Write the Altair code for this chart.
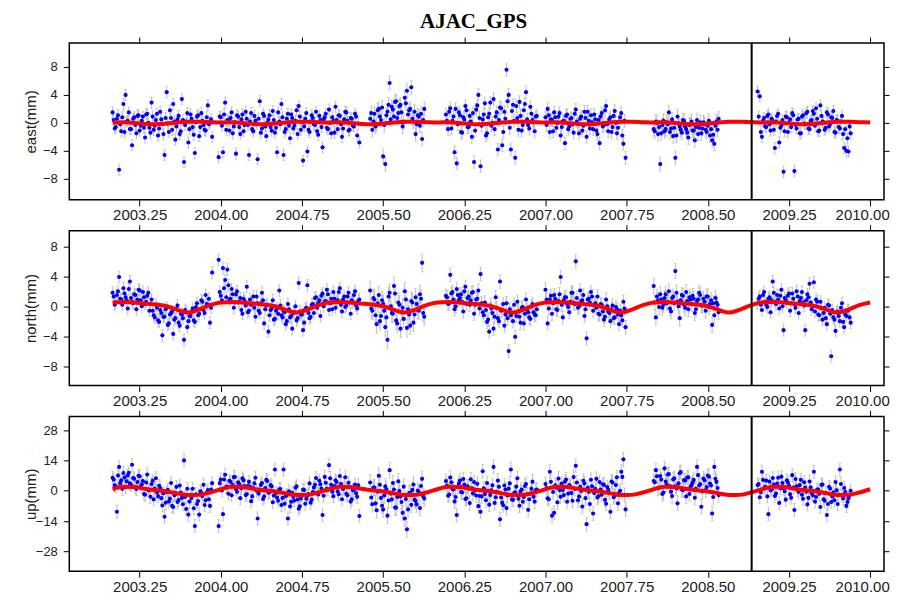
import altair as alt
import pandas as pd

# ---------------- data ----------------
chart_title = "AJAC_GPS"

# observation epochs (decimal years), seven continuous stretches of data (first set)
epochs = [
    2003.00, 2003.02, 2003.04, 2003.06, 2003.08, 2003.10, 2003.12, 2003.14, 2003.16, 2003.18,
    2003.20, 2003.22, 2003.24, 2003.26, 2003.28, 2003.30, 2003.32, 2003.34, 2003.36, 2003.38,
    2003.40, 2003.42, 2003.44, 2003.46, 2003.48, 2003.50, 2003.52, 2003.54, 2003.56, 2003.58,
    2003.60, 2003.62, 2003.64, 2003.66, 2003.68, 2003.70, 2003.72, 2003.74, 2003.76, 2003.78,
    2003.80, 2003.82, 2003.84, 2003.86, 2003.88, 2003.90, 2003.92,
    2003.98, 2004.00, 2004.02, 2004.04, 2004.06, 2004.08, 2004.10, 2004.12, 2004.14, 2004.16,
    2004.18, 2004.20, 2004.22, 2004.24, 2004.26, 2004.28, 2004.30, 2004.32, 2004.34, 2004.36,
    2004.38, 2004.40, 2004.42, 2004.44, 2004.46, 2004.48, 2004.50, 2004.52, 2004.54, 2004.56,
    2004.58, 2004.60, 2004.62, 2004.64, 2004.66, 2004.68, 2004.70, 2004.72, 2004.74, 2004.76,
    2004.78, 2004.80, 2004.82, 2004.84, 2004.86, 2004.88, 2004.90, 2004.92, 2004.94, 2004.96,
    2004.98, 2005.00, 2005.02, 2005.04, 2005.06, 2005.08, 2005.10, 2005.12, 2005.14, 2005.16,
    2005.18, 2005.20, 2005.22, 2005.24, 2005.26, 2005.28,
    2005.38, 2005.40, 2005.42, 2005.44, 2005.46, 2005.48, 2005.50, 2005.52, 2005.54, 2005.56,
    2005.58, 2005.60, 2005.62, 2005.64, 2005.66, 2005.68, 2005.70, 2005.72, 2005.74, 2005.76,
    2005.78, 2005.80, 2005.82, 2005.84, 2005.86, 2005.88,
    2006.08, 2006.10, 2006.12, 2006.14, 2006.16, 2006.18, 2006.20, 2006.22, 2006.24, 2006.26,
    2006.28, 2006.30, 2006.32, 2006.34, 2006.36, 2006.38, 2006.40, 2006.42, 2006.44, 2006.46,
    2006.48, 2006.50, 2006.52, 2006.54, 2006.56, 2006.58, 2006.60, 2006.62, 2006.64, 2006.66,
    2006.68, 2006.70, 2006.72, 2006.74, 2006.76, 2006.78, 2006.80, 2006.82, 2006.84, 2006.86,
    2006.88, 2006.90, 2006.92,
    2007.00, 2007.02, 2007.04, 2007.06, 2007.08, 2007.10, 2007.12, 2007.14, 2007.16, 2007.18,
    2007.20, 2007.22, 2007.24, 2007.26, 2007.28, 2007.30, 2007.32, 2007.34, 2007.36, 2007.38,
    2007.40, 2007.42, 2007.44, 2007.46, 2007.48, 2007.50, 2007.52, 2007.54, 2007.56, 2007.58,
    2007.60, 2007.62, 2007.64, 2007.66, 2007.68, 2007.70, 2007.72, 2007.74,
    2008.00, 2008.02, 2008.04, 2008.06, 2008.08, 2008.10, 2008.12, 2008.14, 2008.16, 2008.18,
    2008.20, 2008.22, 2008.24, 2008.26, 2008.28, 2008.30, 2008.32, 2008.34, 2008.36, 2008.38,
    2008.40, 2008.42, 2008.44, 2008.46, 2008.48, 2008.50, 2008.52, 2008.54, 2008.56, 2008.58,
    2008.60,
    2008.96, 2008.98, 2009.00, 2009.02, 2009.04, 2009.06, 2009.08, 2009.10, 2009.12, 2009.14,
    2009.16, 2009.18, 2009.20, 2009.22, 2009.24, 2009.26, 2009.28, 2009.30, 2009.32, 2009.34,
    2009.36, 2009.38, 2009.40, 2009.42, 2009.44, 2009.46, 2009.48, 2009.50, 2009.52, 2009.54,
    2009.56, 2009.58, 2009.60, 2009.62, 2009.64, 2009.66, 2009.68, 2009.70, 2009.72, 2009.74,
    2009.76, 2009.78, 2009.80, 2009.82,
]
segment_sizes = [47, 66, 26, 43, 38, 31, 44]

east = [
    1.5, -0.8, 0.6, -6.7, -1.2, 2.7, 4.0, 0.3, -0.9, -3.2,
    0.8, -1.5, 1.1, -0.4, 0.9, -2.1, 1.3, -0.7, 2.9, -1.0,
    0.4, -1.8, 1.6, -0.2, -4.6, 4.4, -1.3, 0.7, 2.7, -2.4,
    0.5, -1.6, 3.4, -5.6, 0.2, -2.8, 1.2, -0.6, -4.3, 0.9,
    -1.9, 1.4, -0.3, -1.1, 2.5, 0.1, -2.0,
    -4.9, 0.8, -4.2, 2.9, 0.4, -1.1, 1.5, -0.5, -4.4, 0.9,
    -1.6, 1.2, -0.3, 0.6, -4.6, 1.4, -1.2, 0.3, -5.2, 3.1,
    -0.8, 1.0, -1.9, 0.5, -0.6, 1.7, -1.4, -4.2, 0.2, 2.7,
    -4.6, -0.9, 1.3, -2.2, 0.7, -0.4, 1.8, 2.4, -1.0, -5.4,
    0.6, -4.1, -1.3, 1.1, -0.2, 1.6, -1.7, 0.4, -3.5, 0.8,
    -0.7, 1.9, -1.5, 0.3, 2.3, -0.9, 1.0, -2.0, 0.5, 1.5,
    -1.1, 0.7, -0.4, 1.3, -1.8, -2.8,
    0.6, -1.0, 1.3, -0.2, 2.0, 0.4, -4.8, -5.9, 1.6, 5.7,
    2.3, 0.9, 3.1, 1.4, 2.6, -0.5, 3.6, 4.6, 1.8, 5.1,
    0.2, -1.6, 1.1, -0.4, -2.3, 2.0,
    1.2, -0.9, 2.1, 0.3, -4.2, -5.8, 1.5, -1.3, 0.8, 2.4,
    -0.6, 1.0, -2.0, -5.6, 1.9, 4.0, -6.2, 0.5, 2.8, -1.5,
    1.3, -0.4, 3.4, 0.9, -3.8, 2.2, -3.2, 1.6, 7.6, 4.0,
    -3.8, 2.6, -5.0, 0.7, 3.0, -1.1, 1.8, 4.4, -0.3, 2.3,
    0.4, -1.2, 1.0,
    0.8, 2.0, -1.3, 0.4, 1.5, -0.7, 0.9, -1.8, 0.2, -2.9,
    1.2, -0.5, 0.7, -1.4, 1.9, -0.2, 0.6, -1.1, 1.6, -2.0,
    0.3, 1.1, -0.9, 0.5, -1.6, -2.9, 1.4, -0.3, 2.4, -1.2,
    0.8, -0.6, 1.7, -1.5, 0.2, 1.4, -3.0, -5.0,
    -0.9, 0.2, -1.6, -5.9, -0.3, -1.2, 0.1, 1.5, -0.8, -1.9,
    -5.0, 0.9, -0.5, -1.4, 0.3, -0.9, -2.1, -0.2, -1.1, -2.5,
    0.4, -0.7, -1.5, 0.1, -1.0, -0.4, -1.8, -2.5, -3.0, 0.2,
    0.6,
    4.5, 3.8, -2.0, 0.7, -0.6, 1.2, -1.1, 0.3, -3.6, 1.0,
    -2.8, -0.4, -7.0, 0.9, -1.3, 0.5, 1.4, -6.9, -0.8, 0.6,
    -1.5, 1.1, -0.2, 1.6, -0.9, 0.4, 1.3, 2.1, -1.2, 2.5,
    0.2, -1.0, 1.5, -0.5, 0.8, 1.7, -1.4, 0.3, -0.8, 1.0,
    -3.6, -4.0, -4.1, -1.5,
]

north = [
    1.8, 0.2, 1.5, 3.9, 0.9, 2.4, 1.2, -0.3, 3.3, 0.6,
    1.6, -0.4, 2.2, 0.8, 1.9, 0.3, 1.4, -0.6, 0.9, -1.2,
    0.2, -1.9, -0.5, -3.9, -1.4, -0.2, -2.3, -0.9, -3.7, -1.6,
    0.1, -2.6, -1.1, -4.5, -0.8, -2.0, -1.3, -0.3, -2.1, 0.4,
    -1.0, 0.8, -0.5, 1.5, 0.2, -2.2, 4.5,
    6.2, 1.4, 5.1, 3.5, 4.9, 0.9, 2.3, -0.2, 1.6, 0.5,
    1.1, -1.0, 0.7, 2.6, -0.6, 0.2, 1.3, -1.4, 0.4, -0.9,
    1.8, -2.3, 0.1, -3.4, -0.5, 0.8, -1.7, -0.3, 2.1, -1.2,
    -0.6, -2.4, 0.3, -1.5, -3.0, -0.8, -1.9, 3.1, -1.1, -3.2,
    -0.4, 2.8, -1.6, 0.2, -0.9, 1.2, 0.4, -1.3, 1.7, 0.6,
    2.2, -0.5, 1.0, 1.9, -0.2, 0.8, 2.4, -0.7, 1.3, 0.1,
    1.8, -1.0, 0.5, 2.0, -0.3, 0.9,
    2.1, -0.6, 0.9, -2.4, 1.5, -1.3, 0.3, -2.8, -4.5, 1.8,
    -0.9, 2.7, -1.9, 0.5, -3.0, -0.2, 2.0, -2.9, -1.1, 0.7,
    -2.2, 1.2, -0.5, 1.6, 5.8, -1.4,
    1.4, 0.3, 4.2, 1.9, -0.4, 2.3, 0.8, 1.6, -0.7, 2.6,
    1.1, 0.2, 1.8, -1.0, 0.9, 2.1, 4.3, -0.8, 0.5, -2.1,
    -3.4, -0.3, -3.0, 1.2, -1.6, 3.3, -0.5, -2.6, 0.4, -6.0,
    -1.2, -2.0, -4.1, 0.6, -1.4, -0.2, -2.3, 0.9, -0.8, -1.7,
    0.3, -1.1, -0.4,
    2.2, -2.3, 0.9, -1.0, 1.5, -0.4, 0.7, 3.9, -1.5, 1.2,
    0.3, -0.8, 1.8, 0.5, 6.0, -0.2, 2.1, 0.8, -1.3, -4.3,
    1.0, 1.9, -0.6, 0.4, 1.3, -1.1, 0.2, -1.8, 0.9, -0.7,
    -2.0, 0.1, -1.5, -0.4, -2.4, -1.2, 0.6, -2.8,
    2.7, -1.5, 0.8, 1.6, -0.2, 1.1, 0.4, 2.0, -0.7, 1.3,
    4.7, 0.6, -1.6, 1.5, 0.2, 1.9, -0.4, 0.9, 1.4, -0.9,
    0.7, 1.8, 0.1, 1.0, -0.6, 1.3, 0.3, -2.5, -1.2, 0.5,
    -0.8,
    0.4, 1.3, -0.5, 1.9, 0.2, 1.0, -0.8, 3.3, 0.6, 1.5,
    -0.3, 2.2, -3.2, 0.8, 1.4, -0.6, 1.7, 0.3, 2.0, -0.9,
    1.1, 0.5, -3.2, 1.6, 3.0, -0.4, 3.2, 0.9, -1.1, 0.6,
    -1.8, -0.2, -2.4, 0.1, -6.7, -1.5, -3.3, -0.7, -2.0, 0.4,
    -2.8, -1.3, -0.5, -2.2,
]

up = [
    6.0, 2.5, -9.7, 11.0, 4.8, 8.2, 1.6, 7.1, 3.4, 12.0,
    5.5, 0.8, 6.9, 2.2, 4.5, -1.8, 7.5, 0.4, 3.1, -4.0,
    5.8, -2.5, 1.2, -6.8, -12.0, -0.7, -4.9, 3.6, -7.5, -1.5,
    -5.2, 2.4, -3.3, 14.0, -8.4, -11.0, -2.0, 0.9, -16.3, -6.1,
    -11.0, -1.2, 2.8, -4.4, 0.3, -7.0, 3.5,
    -16.3, 5.2, -10.8, 7.4, 1.9, 4.6, -2.1, 6.3, 0.8, 3.9,
    -3.4, 5.7, 2.2, -1.6, 4.1, -4.8, 1.3, 6.0, -12.8, 0.4,
    3.5, -2.7, 5.0, -0.9, 2.6, -5.3, 9.8, -3.1, 0.7, -6.6,
    9.8, -2.4, -12.8, -7.2, -1.0, -4.5, 2.1, -8.3, -3.6, 0.5,
    -6.0, -2.2, 3.4, -4.1, 1.5, 5.9, -1.7, 3.0, -11.2, 6.4,
    0.9, 11.8, 2.7, -2.5, 4.8, -0.3, 6.8, -3.9, 1.6, -1.4,
    3.7, -5.0, 0.2, 2.9, -2.8, -11.7,
    3.8, -6.2, 1.5, -9.0, 6.9, -3.3, -8.7, 2.0, -11.5, 9.5,
    -4.0, 0.6, -7.8, 4.4, -2.6, -10.2, -12.8, -17.8, -1.1, -6.5,
    2.9, -4.7, 0.1, -8.0, 5.5, -3.6,
    4.5, -2.3, 6.1, 0.8, -4.9, -11.2, 3.3, -0.6, 5.4, -3.8,
    2.0, -5.7, 1.1, 4.0, -2.2, -7.1, -9.7, 9.0, -1.5, 3.6,
    -6.4, 0.2, 11.0, -3.0, 4.7, -13.2, -5.5, 2.4, -8.0, 1.0,
    9.8, -4.2, -0.7, 5.8, -6.9, 0.6, -2.9, 3.1, -8.8, -1.3,
    4.2, -5.0, 0.5,
    3.1, -3.5, 8.8, -11.5, -10.2, 1.4, 5.6, -2.8, 0.3, 4.2,
    -5.1, 2.6, -1.0, 6.3, 11.5, -4.4, 1.8, -7.3, 3.4, -15.4,
    -0.5, 5.1, -10.5, 0.9, -3.1, 4.0, -1.8, 2.7, -6.0, 0.4,
    -9.7, 3.8, -2.3, 6.2, -0.9, 8.8, 14.5, -8.6,
    4.5, 9.5, 1.2, 6.8, -1.5, 10.3, 3.0, 7.7, -0.4, 5.2,
    2.1, -5.8, 8.1, 0.6, 4.9, -2.6, 6.2, 1.8, 3.7, -3.2,
    11.0, 2.4, -7.4, 5.6, 0.3, 7.0, 3.3, -10.5, 11.0, 4.1,
    -2.0,
    2.6, -3.0, 8.8, 1.1, 4.7, -10.8, 0.2, 5.9, -2.4, 3.3,
    -5.6, 6.5, 1.0, -4.1, 3.8, -1.6, 7.2, -8.9, 2.1, -0.5,
    5.0, -3.7, 1.5, -6.3, 4.3, -1.2, 8.8, -2.9, 0.6, -7.5,
    2.9, -4.6, -11.2, 1.8, -5.2, -0.8, 4.0, -6.1, 9.8, -2.2,
    1.3, -7.0, -3.4, 0.0,
]

# second set of daily solutions (the dense core of each cloud)
epochs_b = [
    2003.01, 2003.03, 2003.05, 2003.07, 2003.09, 2003.11, 2003.13, 2003.15, 2003.17, 2003.19,
    2003.21, 2003.23, 2003.25, 2003.27, 2003.29, 2003.31, 2003.33, 2003.35, 2003.37, 2003.39,
    2003.41, 2003.43, 2003.45, 2003.47, 2003.49, 2003.51, 2003.53, 2003.55, 2003.57, 2003.59,
    2003.61, 2003.63, 2003.65, 2003.67, 2003.69, 2003.71, 2003.73, 2003.75, 2003.77, 2003.79,
    2003.81, 2003.83, 2003.85, 2003.87, 2003.89, 2003.91,
    2003.99, 2004.01, 2004.03, 2004.05, 2004.07, 2004.09, 2004.11, 2004.13, 2004.15, 2004.17,
    2004.19, 2004.21, 2004.23, 2004.25, 2004.27, 2004.29, 2004.31, 2004.33, 2004.35, 2004.37,
    2004.39, 2004.41, 2004.43, 2004.45, 2004.47, 2004.49, 2004.51, 2004.53, 2004.55, 2004.57,
    2004.59, 2004.61, 2004.63, 2004.65, 2004.67, 2004.69, 2004.71, 2004.73, 2004.75, 2004.77,
    2004.79, 2004.81, 2004.83, 2004.85, 2004.87, 2004.89, 2004.91, 2004.93, 2004.95, 2004.97,
    2004.99, 2005.01, 2005.03, 2005.05, 2005.07, 2005.09, 2005.11, 2005.13, 2005.15, 2005.17,
    2005.19, 2005.21, 2005.23, 2005.25, 2005.27,
    2005.39, 2005.41, 2005.43, 2005.45, 2005.47, 2005.49, 2005.51, 2005.53, 2005.55, 2005.57,
    2005.59, 2005.61, 2005.63, 2005.65, 2005.67, 2005.69, 2005.71, 2005.73, 2005.75, 2005.77,
    2005.79, 2005.81, 2005.83, 2005.85, 2005.87,
    2006.09, 2006.11, 2006.13, 2006.15, 2006.17, 2006.19, 2006.21, 2006.23, 2006.25, 2006.27,
    2006.29, 2006.31, 2006.33, 2006.35, 2006.37, 2006.39, 2006.41, 2006.43, 2006.45, 2006.47,
    2006.49, 2006.51, 2006.53, 2006.55, 2006.57, 2006.59, 2006.61, 2006.63, 2006.65, 2006.67,
    2006.69, 2006.71, 2006.73, 2006.75, 2006.77, 2006.79, 2006.81, 2006.83, 2006.85, 2006.87,
    2006.89, 2006.91,
    2007.01, 2007.03, 2007.05, 2007.07, 2007.09, 2007.11, 2007.13, 2007.15, 2007.17, 2007.19,
    2007.21, 2007.23, 2007.25, 2007.27, 2007.29, 2007.31, 2007.33, 2007.35, 2007.37, 2007.39,
    2007.41, 2007.43, 2007.45, 2007.47, 2007.49, 2007.51, 2007.53, 2007.55, 2007.57, 2007.59,
    2007.61, 2007.63, 2007.65, 2007.67, 2007.69, 2007.71, 2007.73,
    2008.01, 2008.03, 2008.05, 2008.07, 2008.09, 2008.11, 2008.13, 2008.15, 2008.17, 2008.19,
    2008.21, 2008.23, 2008.25, 2008.27, 2008.29, 2008.31, 2008.33, 2008.35, 2008.37, 2008.39,
    2008.41, 2008.43, 2008.45, 2008.47, 2008.49, 2008.51, 2008.53, 2008.55, 2008.57, 2008.59,
    2008.97, 2008.99, 2009.01, 2009.03, 2009.05, 2009.07, 2009.09, 2009.11, 2009.13, 2009.15,
    2009.17, 2009.19, 2009.21, 2009.23, 2009.25, 2009.27, 2009.29, 2009.31, 2009.33, 2009.35,
    2009.37, 2009.39, 2009.41, 2009.43, 2009.45, 2009.47, 2009.49, 2009.51, 2009.53, 2009.55,
    2009.57, 2009.59, 2009.61, 2009.63, 2009.65, 2009.67, 2009.69, 2009.71, 2009.73, 2009.75,
    2009.77, 2009.79, 2009.81,
]
segment_sizes_b = [46, 65, 25, 42, 37, 30, 43]

east_b = [
    0.4, -0.6, 1.1, -0.2, 0.8, -1.3, 0.2, 1.5, -0.9, 0.6,
    -0.3, 1.0, -1.1, 0.3, -0.7, 1.2, 0.0, -1.4, 0.9, -0.4,
    1.3, -0.8, 0.5, -1.6, 0.7, -0.1, 1.8, -1.0, 0.2, -0.5,
    1.0, -1.2, 0.4, -0.3, 1.4, -0.9, 0.6, -1.7, 0.1, 1.1,
    -0.6, 0.3, -1.0, 0.8, -0.2, 0.5,
    0.9, -0.4, 1.2, -1.0, 0.3, 0.7, -1.5, 0.1, 1.1, -0.6,
    0.5, -1.2, 1.6, -0.3, 0.2, -0.9, 1.0, -0.1, 0.6, -1.4,
    1.3, -0.5, 0.0, 1.1, -1.1, 0.4, -0.7, 1.5, -0.2, 0.8,
    -1.3, 0.6, -0.4, 1.2, -0.8, 0.3, -1.6, 0.9, 0.1, -0.5,
    1.4, -1.0, 0.2, 0.7, -0.3, -1.2, 1.0, -0.6, 0.5, 1.3,
    -0.9, 0.0, 0.8, -1.4, 0.4, 1.1, -0.2, -0.8, 1.6, 0.3,
    -1.0, 0.6, -0.5, 0.9, -0.1,
    1.4, 0.2, -0.5, 1.8, 0.9, 2.2, -0.3, 1.1, 2.6, 0.5,
    1.9, 3.0, 0.7, 2.4, 1.5, 0.1, 2.8, 1.2, 2.0, 0.6,
    1.6, -0.2, 0.9, 1.3, 0.4,
    0.3, 1.6, -0.8, 0.9, 2.0, -0.2, 1.1, -1.4, 0.5, 1.8,
    -0.6, 0.2, 1.4, -1.1, 2.5, 0.7, -0.4, 1.2, -1.8, 0.8,
    2.9, 0.0, -0.9, 1.5, 0.4, 2.1, -1.3, 0.6, 3.1, -0.7,
    1.7, 0.3, 2.4, -1.0, 1.0, -0.3, 2.7, 0.5, -0.8, 1.3,
    0.1, 0.9,
    -0.3, 1.1, 0.5, -1.2, 0.8, 0.0, 1.4, -0.6, 0.3, 1.0,
    -0.9, 0.6, -0.2, 1.3, 0.2, -1.5, 0.9, -0.4, 0.7, 1.6,
    -0.8, 0.1, 1.2, -1.1, 0.4, 0.9, -0.5, 1.8, -0.2, 0.5,
    -1.3, 1.0, 0.0, -0.7, 0.8, -1.8, 0.3,
    -1.2, 0.0, -0.6, -1.5, 0.3, -0.9, -0.2, -1.3, 0.5, -0.7,
    -1.8, -0.1, -1.0, 0.4, -0.5, -1.4, -0.3, 0.2, -1.1, -0.6,
    -1.6, 0.1, -0.8, -0.2, -1.3, 0.3, -0.9, -1.7, -0.4, -1.0,
    0.9, -1.3, 0.3, -0.5, 1.0, -0.2, 0.6, -1.0, 0.2, 1.3,
    -0.7, 0.4, -1.2, 0.8, 0.0, -0.6, 1.1, -0.3, 0.5, -1.5,
    0.9, -0.1, 1.4, -0.8, 0.3, 1.7, -0.4, 0.6, -1.1, 1.0,
    0.1, -0.7, 1.2, -0.2, 0.7, -1.3, 0.4, -0.6, 0.2, -1.6,
    -0.9, -2.2, -0.5,
]

north_b = [
    1.3, 0.5, 2.0, 1.0, 0.2, 1.7, 0.8, 2.3, 1.1, 0.4,
    1.5, 0.9, 2.1, 0.0, 1.2, 0.6, 1.8, 0.3,
    -0.6, -1.5, -0.2, -2.1, -0.9, -1.4, -0.4, -2.5, -1.1, -0.7,
    -1.8, -0.3, -2.2, -1.0, -1.6, -0.5, -2.8, -1.3, -0.8, -1.9,
    -0.1, -1.2,
    -0.4, 0.6, -0.9, 0.3, 1.0, -0.2,
    1.9, 0.8, 2.4, 1.2, 2.8, 1.0, 1.6, 0.5, 2.0,
    0.6, -0.5, 1.0, 0.1, -0.8, 0.9, 0.3, -0.2, 1.3, -0.6, 0.4, 0.8, -0.4, 0.2,
    -1.2, -0.3, -1.8, -0.6, -1.0, 0.1, -1.5, -0.8, -2.0, -0.4,
    -1.3, -0.9, 0.0, -1.6, -0.7, -1.1, -2.2, -0.2, -0.9, -1.4,
    0.3, 1.1, -0.2, 0.8, 1.4, 0.0, 0.7, 1.6, 0.4, -0.4, 1.0,
    0.6, 1.9, 0.2, 0.9, -0.1, 1.3, 0.5, 0.8, 1.5, 0.1, 0.7,
    -0.3, 1.1, -1.2, 0.4, -2.0, 0.8, -0.6, -1.5, 1.3, 0.0,
    -1.0, 1.7, -2.3, 0.2, -0.8, -1.7, 0.9, -0.4, -2.6, 0.5,
    -1.1, 0.3, -0.6, 1.0, -0.9,
    1.2, 0.4, 1.7, 0.9, 0.0, 1.5, 1.1, 0.6, 2.0, 0.3, 1.3, 0.8, 1.9, 0.2, 1.0,
    -0.3, 0.4, -1.2, -0.5, -1.8, 0.1, -0.9, -1.4, -0.2, -2.0,
    -0.6, 0.3, -1.1, -1.6, -0.4, -0.9, 0.2, -1.3, -0.7, -2.2,
    -0.1, -1.0, -0.5, -1.5, 0.0, -0.8, -1.2,
    0.9, -0.3, 1.4, 0.4, 1.0, -0.5, 1.6, 0.2, 0.8, 1.2,
    -0.1, 0.6, 1.8, 0.3, 1.1, 0.0, 0.7, 1.5, -0.4, 0.9,
    0.5, 1.3, 0.1,
    -0.2, -1.0, 0.3, -0.7, -1.4, 0.0, -0.9, -0.4, -1.6, -0.1, -1.1, -0.6, -1.9, -0.3,
    0.5, 1.3, -0.1, 0.9, 0.2, 1.6, 0.6, -0.3, 1.1, 0.4,
    1.8, 0.0, 0.8, 1.4, -0.2, 0.7, 1.2, 0.3, 1.0, -0.4,
    0.9, 1.5, 0.1, 0.6, 1.3, -0.1, 0.8, 0.4, 1.1, 0.2,
    1.0, 0.2, 1.5, 0.6, -0.1, 1.2, 0.8, 1.8, 0.3, 0.9,
    1.4, 0.0, 1.1, 0.5, 1.7, 0.4, 1.0, -0.2, 1.3, 0.7,
    1.9, 0.1, 0.8, 1.2, 0.5,
    0.0, -0.7, 0.6, -1.2, -0.3, -0.9, -1.6, 0.2, -1.0, -0.5,
    -1.8, -0.8, -1.3, -0.2, -2.1, -1.1, -0.6, -1.5,
]

up_b = [
    5.2, 2.1, 7.0, 3.5, 0.9, 6.1, 4.4, 8.3, 2.8, 5.9, 1.5, 4.0, 6.7,
    2.9, -1.5, 3.8, 0.2, -2.8, 4.6, 1.0, -0.7, 2.3, -3.4,
    -1.2, -5.5, 0.4, -3.6, -7.0, -2.1, 1.8, -4.3, -0.8, -6.2,
    -2.9, 0.9, -5.0, -3.3, -8.1, -1.6, -4.7, -0.3, -2.4, -6.6,
    -1.0, -3.9, 0.6,
    3.5, 0.1, 5.2, 1.8, -1.4, 4.1, 2.6, 6.3, -0.5, 3.0, 1.1, 4.8, -2.0, 2.2,
    1.9, -2.6, 3.4, 0.0, -1.3, 2.7, -3.8, 1.2, 4.5, -0.7, 2.0, -2.2,
    -1.0, -4.6, 0.8, -3.3, -6.0, -1.9, -0.2, -5.1, -2.8, 1.4,
    -4.0, -7.2, -2.2, 0.3, -3.7, -1.5, -5.5, -0.6,
    2.8, -0.9, 4.6, 1.0, -2.3, 3.7, 0.5, 5.8, -0.4, 2.2, 4.0, -1.6, 3.1, 0.8, 6.2,
    -2.1, 1.6, -3.9, 0.4, -1.2, 2.5,
    -3.1, 1.5, -5.8, -0.4, 2.8, -6.9, -2.2, 0.7, -4.5, -1.3,
    3.6, -7.7, -2.9, -0.1, -5.2, 1.9, -3.8, -8.6, -1.0, 0.4,
    -4.1, -6.3, -0.8, 2.2, -2.5,
    2.4, -1.7, 3.9, 0.6, -2.9, 1.8, 4.7, -0.8, 2.9, -3.5, 1.2, 5.3, -1.2, 0.3, 3.2, -2.4,
    -2.6, 1.1, -4.4, 0.0, -1.9, 2.5, -5.6, -0.5, 1.8, -3.1,
    -6.7, 0.6, -2.2, 3.4, -4.0, -1.1, 1.9, -3.7, -0.2, -5.1,
    2.2, -1.6, -3.9, 0.9, -2.8, 0.2,
    1.2, -3.9, 4.1, -0.6, 2.5, -5.3, 0.3, 3.3, -2.0, 5.2,
    -1.3, 1.9, -4.6, 0.8, 3.8, -2.7, -0.1, 4.6, -3.4, 1.4,
    -6.1, 2.1, -1.0, 5.5, -2.4, 0.5, 3.0, -4.2, 1.7, -0.9,
    4.3, -3.0, 2.6, -5.8, 0.0, 6.4, -1.9,
    3.9, 6.7, 1.5, 5.2, -0.8, 4.3, 7.5, 2.0, -2.4, 5.8,
    1.1, 3.4, 8.6, 0.2, 4.7, 6.1, -1.5, 2.7, 5.0, 0.9,
    7.2, 3.1, -0.3, 4.9, 1.7, 6.5, 2.4, -2.9, 5.5, 1.3,
    3.1, -0.7, 5.0, 1.8, -2.6, 4.2, 0.6, 2.9, -1.3, 6.0, 1.1,
    3.6, -0.2, 4.8, 2.3, -3.2, 1.5, 5.4, 0.3, 2.6, -1.8, 3.9,
    -0.4, -3.3, 1.6, -2.1, -5.0, 0.5, -1.4, 2.7, -3.9, -0.9,
    -6.1, 1.0, -2.6, -4.4, 0.2, -1.7, 3.1, -3.6, -0.6, -5.2, -2.0,
]

# one-sigma error per stretch (mm)
east_sigma = [0.8, 0.8, 1.0, 0.9, 0.9, 1.0, 0.8]
north_sigma = [0.8, 0.8, 1.2, 0.9, 0.9, 1.0, 0.8]
up_sigma = [3.0, 3.0, 3.6, 3.2, 3.2, 3.3, 3.0]

# fitted model (red curve), sampled every 0.1 yr
fit_epochs = [
    2003.0, 2003.1, 2003.2, 2003.3, 2003.4, 2003.5, 2003.6, 2003.7, 2003.8, 2003.9,
    2004.0, 2004.1, 2004.2, 2004.3, 2004.4, 2004.5, 2004.6, 2004.7, 2004.8, 2004.9,
    2005.0, 2005.1, 2005.2, 2005.3, 2005.4, 2005.5, 2005.6, 2005.7, 2005.8, 2005.9,
    2006.0, 2006.1, 2006.2, 2006.3, 2006.4, 2006.5, 2006.6, 2006.7, 2006.8, 2006.9,
    2007.0, 2007.1, 2007.2, 2007.3, 2007.4, 2007.5, 2007.6, 2007.7, 2007.8, 2007.9,
    2008.0, 2008.1, 2008.2, 2008.3, 2008.4, 2008.5, 2008.6, 2008.7, 2008.8, 2008.9,
    2009.0, 2009.1, 2009.2, 2009.3, 2009.4, 2009.5, 2009.6, 2009.7, 2009.8, 2009.9,
    2010.0,
]
east_fit = [
    0.05, 0.10, 0.00, -0.15, -0.20, -0.10, 0.05, 0.15, 0.15, 0.10,
    0.05, 0.10, 0.00, -0.15, -0.20, -0.10, 0.05, 0.15, 0.15, 0.10,
    0.05, 0.10, 0.00, -0.15, -0.20, -0.10, 0.05, 0.15, 0.15, 0.10,
    0.05, 0.10, 0.00, -0.15, -0.20, -0.10, 0.05, 0.15, 0.15, 0.10,
    0.05, 0.10, 0.00, -0.15, -0.20, -0.10, 0.05, 0.15, 0.15, 0.10,
    0.05, 0.10, 0.00, -0.15, -0.20, -0.10, 0.05, 0.15, 0.15, 0.10,
    0.05, 0.10, 0.00, -0.15, -0.20, -0.10, 0.05, 0.15, 0.15, 0.10,
    0.05,
]
north_fit = [
    0.50, 0.58, 0.50, 0.36, 0.22, 0.00, -0.50, -0.85, -0.45, 0.15,
    0.50, 0.58, 0.50, 0.36, 0.22, 0.00, -0.50, -0.85, -0.45, 0.15,
    0.50, 0.58, 0.50, 0.36, 0.22, 0.00, -0.50, -0.85, -0.45, 0.15,
    0.50, 0.58, 0.50, 0.36, 0.22, 0.00, -0.50, -0.85, -0.45, 0.15,
    0.50, 0.58, 0.50, 0.36, 0.22, 0.00, -0.50, -0.85, -0.45, 0.15,
    0.50, 0.58, 0.50, 0.36, 0.22, 0.00, -0.50, -0.85, -0.45, 0.15,
    0.50, 0.58, 0.50, 0.36, 0.22, 0.00, -0.50, -0.85, -0.45, 0.15,
    0.50,
]
up_fit = [
    0.7, 1.8, 1.7, 0.9, 0.2, -0.3, -1.2, -2.0, -1.9, -0.8,
    0.7, 1.8, 1.7, 0.9, 0.2, -0.3, -1.2, -2.0, -1.9, -0.8,
    0.7, 1.8, 1.7, 0.9, 0.2, -0.3, -1.2, -2.0, -1.9, -0.8,
    0.7, 1.8, 1.7, 0.9, 0.2, -0.3, -1.2, -2.0, -1.9, -0.8,
    0.7, 1.8, 1.7, 0.9, 0.2, -0.3, -1.2, -2.0, -1.9, -0.8,
    0.7, 1.8, 1.7, 0.9, 0.2, -0.3, -1.2, -2.0, -1.9, -0.8,
    0.7, 1.8, 1.7, 0.9, 0.2, -0.3, -1.2, -2.0, -1.9, -0.8,
    0.7,
]

offset_epoch = [2008.905]          # equipment change (vertical black line)
x_ticks = [2003.25, 2004.00, 2004.75, 2005.50, 2006.25, 2007.00, 2007.75, 2008.50, 2009.25, 2010.00]
x_domain = [2002.60, 2010.128]
hv_ticks = [-8, -4, 0, 4, 8]
up_ticks = [-28, -14, 0, 14, 28]

# ---------------- chart ----------------
PLOT_W = 816
SANS = "Liberation Sans"


def seg_ids(sizes):
    out = []
    for i, n in enumerate(sizes):
        out += [i] * n
    return out


seg_a = seg_ids(segment_sizes)
seg_b = seg_ids(segment_sizes_b)


def make_panel(values, values_b, sigmas, fit, ytitle, ydomain, yticks, height):
    t_all = epochs + epochs_b
    v_all = values + values_b
    s_all = [sigmas[s] for s in seg_a] + [sigmas[s] for s in seg_b]
    pts = pd.DataFrame({
        "t": t_all,
        "v": v_all,
        "lo": [v - s for v, s in zip(v_all, s_all)],
        "hi": [v + s for v, s in zip(v_all, s_all)],
    })
    fitdf = pd.DataFrame({"t": fit_epochs, "v": fit})
    brk = pd.DataFrame({"t": offset_epoch})

    xs = alt.Scale(domain=x_domain, nice=False, zero=False)
    ys = alt.Scale(domain=ydomain, nice=False, zero=False)

    ax_bottom = alt.Axis(orient="bottom", values=x_ticks, format=".2f", title=None, grid=False,
                         domain=False, tickSize=6, tickColor="black", tickWidth=1,
                         labelFont=SANS, labelFontSize=15, labelColor="#222222", labelPadding=2,
                         labelOffset={"condition": {"test": "datum.value >= 2010", "value": -8},
                                      "value": 0})
    ax_left = alt.Axis(orient="left", values=yticks, format="d", title=ytitle, grid=False,
                       domain=False, tickSize=6, tickColor="black", tickWidth=1,
                       labelFont=SANS, labelFontSize=13, labelColor="#222222", labelPadding=6,
                       titleFont=SANS, titleFontSize=15, titleFontWeight="normal",
                       titleColor="#222222", titlePadding=1, minExtent=30, maxExtent=30)
    ax_top = alt.Axis(orient="top", values=x_ticks, labels=False, title=None, grid=False,
                      domain=False, tickSize=6, tickColor="black", tickWidth=1)
    ax_right = alt.Axis(orient="right", values=yticks, labels=False, title=None, grid=False,
                        domain=False, tickSize=5, tickColor="black", tickWidth=1)

    base = alt.Chart(pts)
    bars = base.mark_rule(color="#b8b8b8", strokeWidth=0.9).encode(
        x=alt.X("t:Q", scale=xs, axis=ax_bottom),
        y=alt.Y("lo:Q", scale=ys, axis=ax_left),
        y2="hi:Q",
    )
    cap_lo = base.mark_tick(orient="horizontal", size=3, thickness=0.8, color="#b8b8b8").encode(
        x=alt.X("t:Q", scale=xs, axis=None),
        y=alt.Y("lo:Q", scale=ys, axis=None),
    )
    cap_hi = base.mark_tick(orient="horizontal", size=3, thickness=0.8, color="#b8b8b8").encode(
        x=alt.X("t:Q", scale=xs, axis=None),
        y=alt.Y("hi:Q", scale=ys, axis=None),
    )
    dots = base.mark_circle(size=17, color="#0000ff", opacity=1).encode(
        x=alt.X("t:Q", scale=xs, axis=ax_top),
        y=alt.Y("v:Q", scale=ys, axis=ax_right),
    )
    line = alt.Chart(fitdf).mark_line(color="#ff0000", strokeWidth=4, interpolate="monotone").encode(
        x=alt.X("t:Q", scale=xs, axis=None),
        y=alt.Y("v:Q", scale=ys, axis=None),
    )
    rule = alt.Chart(brk).mark_rule(color="black", strokeWidth=2).encode(
        x=alt.X("t:Q", scale=xs, axis=None),
    )
    return (
        alt.layer(bars, cap_lo, cap_hi, dots, line, rule)
        .resolve_axis(x="independent", y="independent")
        .properties(width=PLOT_W, height=height,
                    view=alt.ViewBackground(stroke="black", strokeWidth=1.5, fill="white"))
    )


p_east = make_panel(east, east_b, east_sigma, east_fit, "east(mm)", [-11.0, 11.43], hv_ticks, 157)
p_north = make_panel(north, north_b, north_sigma, north_fit, "north(mm)", [-10.6, 10.1], hv_ticks, 155)
p_up = make_panel(up, up_b, up_sigma, up_fit, "up(mm)", [-37.1, 34.3], up_ticks, 155)

chart = (
    alt.vconcat(p_east, p_north, p_up, spacing=31, bounds="flush")
    .properties(
        title=alt.TitleParams(text=chart_title, font="Liberation Serif", fontSize=21,
                              fontWeight="bold", color="black", anchor="middle",
                              frame="group", offset=4, dx=-3),
        padding={"left": 14.4, "top": 1.6, "right": 0, "bottom": 0},
    )
    .configure_view(stroke="black", strokeWidth=1.5)
    .configure(background="white")
)

chart.save("out.html", embed_options={"renderer": "svg", "actions": False})
